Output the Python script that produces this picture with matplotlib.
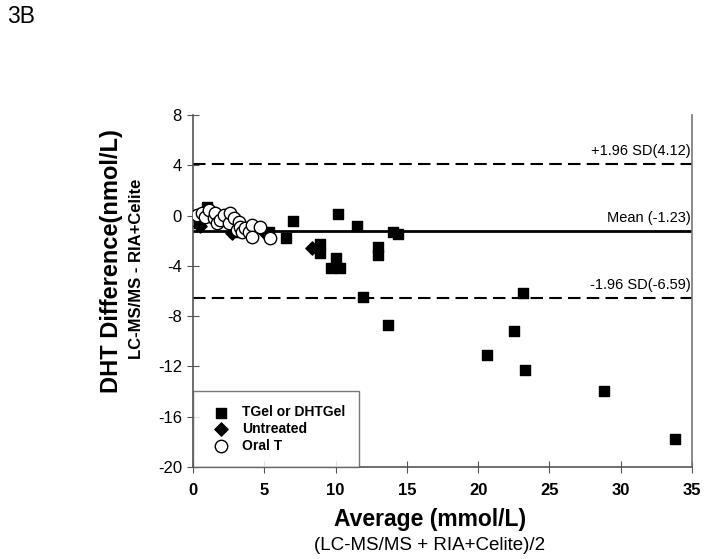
import matplotlib
matplotlib.use("Agg")
import matplotlib.pyplot as plt

plt.rcParams['font.family'] = ['Liberation Sans', 'DejaVu Sans']

# TGel or DHTGel (squares)
tgel_x = [1.0, 0.4, 2.85, 5.3, 6.5, 7.0, 8.9, 8.9, 10.0, 9.7, 10.3, 10.15, 11.5,
          12.95, 13.0, 14.05, 14.4, 11.95, 13.7, 20.6, 22.5, 23.15, 23.3, 28.85, 33.85]
tgel_y = [0.65, -0.6, -1.3, -1.3, -1.8, -0.45, -2.3, -3.0, -3.35, -4.15, -4.15, 0.1, -0.8,
          -2.5, -3.15, -1.3, -1.45, -6.5, -8.7, -11.1, -9.2, -6.2, -12.3, -14.0, -17.8]

# Untreated (diamonds)
untr_x = [0.5, 2.7, 5.0, 8.35]
untr_y = [-0.8, -1.4, -1.3, -2.6]

# Oral T (circles)
oral_x = [0.27, 0.6, 0.86, 1.1, 1.45, 1.56, 1.68, 1.9, 2.15, 2.5, 2.6, 2.85, 3.08,
          3.2, 3.3, 3.43, 3.67, 3.9, 4.13, 4.13, 4.72, 5.37]
oral_y = [0.05, 0.17, -0.1, 0.44, -0.2, 0.17, -0.62, -0.36, 0.05, -0.62, 0.17, -0.2, -1.16,
          -0.49, -0.89, -1.29, -1.02, -1.29, -0.76, -1.69, -0.89, -1.82]

mean_diff = -1.23
upper = 4.12
lower = -6.59

fig = plt.figure(figsize=(7.06, 5.59), dpi=100)
ax = fig.add_axes([0.2734, 0.165, 0.7066, 0.629])

ax.axhline(mean_diff, color='black', lw=2.0, zorder=1)
ax.axhline(upper, color='black', lw=1.5, ls=(0, (6, 3)), zorder=1)
ax.axhline(lower, color='black', lw=1.5, ls=(0, (6, 3)), zorder=1)

ax.scatter(tgel_x, tgel_y, marker='s', s=55, color='black', label='TGel or DHTGel', zorder=3)
ax.scatter(untr_x, untr_y, marker='D', s=45, color='black', label='Untreated', zorder=3)
ax.scatter(oral_x, oral_y, marker='o', s=80, facecolor='white', edgecolor='black',
           linewidths=1.0, label='Oral T', zorder=4)

ax.text(34.9, upper + 0.5, '+1.96 SD(4.12)', ha='right', va='bottom', fontsize=10.5)
ax.text(34.9, mean_diff + 0.5, 'Mean (-1.23)', ha='right', va='bottom', fontsize=10.5)
ax.text(34.9, lower + 0.5, '-1.96 SD(-6.59)', ha='right', va='bottom', fontsize=10.5)

ax.set_xlim(0, 35)
ax.set_ylim(-20, 8)
ax.set_xticks([0, 5, 10, 15, 20, 25, 30, 35])
ax.set_yticks([8, 4, 0, -4, -8, -12, -16, -20])
ax.set_yticklabels(['8', '4', '0', '-4', '-8', '-12', '-16', '-20'])

for s in ['left', 'bottom']:
    ax.spines[s].set_color('#555555')
    ax.spines[s].set_linewidth(1.2)
ax.spines['right'].set_color('#777777')
ax.spines['right'].set_linewidth(1.2)
ax.spines['top'].set_visible(False)
ax.tick_params(axis='both', color='#555555', labelsize=12)
ax.tick_params(axis='y', direction='inout', length=8, pad=4)
ax.tick_params(axis='x', direction='inout', length=8, pad=8)
for lbl in ax.get_xticklabels():
    lbl.set_fontweight('bold')
    lbl.set_fontsize(12)

leg = ax.legend(loc='lower left', bbox_to_anchor=(0, 0), frameon=True, fancybox=False,
                edgecolor='#555555', prop={'weight': 'bold', 'size': 10},
                handletextpad=0.5, borderpad=1.0, labelspacing=0.2, borderaxespad=0)
leg.get_frame().set_linewidth(1.0)

fig.text(0.010, 0.971, '3B', fontsize=16.5, ha='left', va='center')
fig.text(0.158, 0.533, 'DHT Difference(nmol/L)', rotation=90, fontsize=17,
         fontweight='bold', ha='center', va='center')
fig.text(0.194, 0.52, 'LC-MS/MS - RIA+Celite', rotation=90, fontsize=12,
         fontweight='bold', ha='center', va='center')
fig.text(0.609, 0.070, 'Average (mmol/L)', fontsize=16.5, fontweight='bold',
         ha='center', va='center')
fig.text(0.609, 0.025, '(LC-MS/MS + RIA+Celite)/2', fontsize=13.5, ha='center', va='center')

fig.savefig('out.png', dpi=100)
